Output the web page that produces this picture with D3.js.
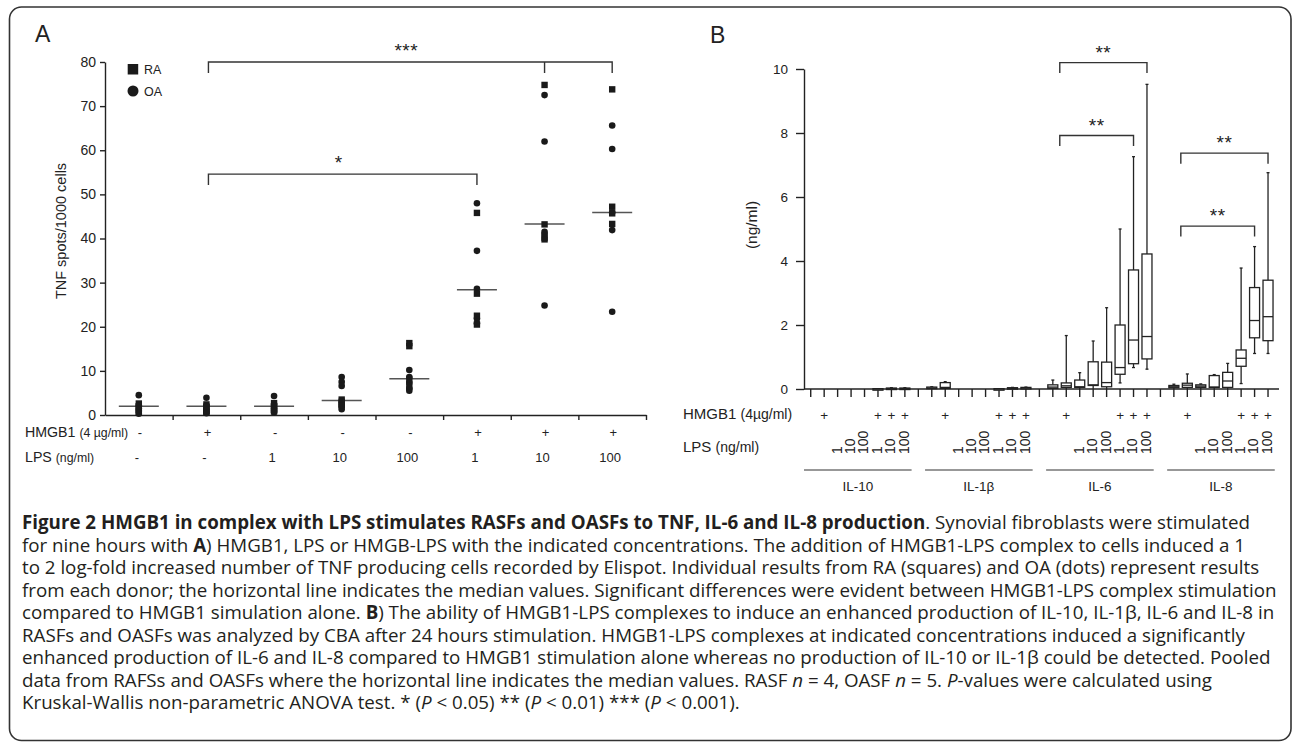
<!DOCTYPE html>
<html><head><meta charset="utf-8">
<script src="https://cdn.jsdelivr.net/npm/d3@7"></script>
<style>body{margin:0;background:#fff}</style>
</head><body>
<svg id="chart" width="1293" height="748"></svg>
<script>
// ================= DATA =================
// Panel A
const aHMGB1 = ["-", "+", "-", "-", "-", "+", "+", "+"];
const aLPS = ["-", "-", "1", "10", "100", "1", "10", "100"];
const aRA = [
  [2.6, 2.0, 1.2, 0.6],
  [2.4, 1.8, 1.0, 0.5],
  [2.7, 2.0, 1.3, 0.8],
  [3.5, 3.0, 2.6, 2.2],
  [16.3, 15.6, 8.0, 6.5],
  [45.8, 27.5, 22.5, 20.5],
  [74.8, 43.2, 40.2, 39.8],
  [73.8, 47.2, 45.7, 43.3]
];
const aOA = [
  [4.5, 2.2, 1.5, 0.9, 0.3],
  [3.9, 2.2, 1.4, 0.8, 0.4],
  [4.3, 2.4, 1.6, 1.0, 0.6],
  [8.6, 7.5, 6.6, 1.9, 1.3],
  [10.2, 8.6, 7.3, 6.0, 5.5],
  [48.0, 37.2, 28.6, 21.8, 20.8],
  [72.5, 62.0, 41.5, 41.0, 24.8],
  [65.6, 60.3, 45.9, 41.9, 23.4]
];
const aMedians = [2.0, 2.0, 2.0, 3.3, 8.2, 28.4, 43.3, 45.9];
const aYTicks = [0, 10, 20, 30, 40, 50, 60, 70, 80];
const aBrackets = [
  {from: 1, to: 7, mids: [6], value: 80, label: "***"},
  {from: 1, to: 5, mids: [], value: 54.6, label: "*"}
];

// Panel B  (each entry: [min, q1, median, q3, max])
const bCytokines = ["IL-10", "IL-1\u03B2", "IL-6", "IL-8"];
const bHMGB1 = ["", "+", "", "", "", "+", "+", "+"];
const bLPS = ["", "", "1", "10", "100", "1", "10", "100"];
const bIL10 = [
  [0,0,0,0,0],[0,0,0,0,0],[0,0,0,0,0],[0,0,0,0,0],[0,0,0,0,0],
  [0,0,0,0.01,0.01],[0,0,0.01,0.03,0.04],[0,0,0.01,0.03,0.04]
];
const bIL1b = [
  [0,0.01,0.03,0.06,0.07],[0,0.02,0.05,0.2,0.23],[0,0,0,0,0],[0,0,0,0,0],[0,0,0,0,0],
  [0,0,0,0.01,0.01],[0,0.01,0.02,0.04,0.05],[0,0.01,0.03,0.05,0.06]
];
const bIL6 = [
  [0, 0.02, 0.06, 0.13, 0.28],
  [0, 0.05, 0.10, 0.19, 1.67],
  [0, 0.05, 0.07, 0.28, 0.51],
  [0, 0.11, 0.13, 0.85, 1.50],
  [0, 0.07, 0.20, 0.84, 2.54],
  [0.19, 0.46, 0.67, 2.00, 5.00],
  [0.67, 0.79, 1.53, 3.72, 7.26],
  [0.62, 0.94, 1.64, 4.22, 9.52]
];
const bIL8 = [
  [0, 0.04, 0.07, 0.11, 0.15],
  [0, 0.05, 0.12, 0.18, 0.47],
  [0, 0.05, 0.09, 0.13, 0.16],
  [0, 0.05, 0.06, 0.42, 0.45],
  [0, 0.05, 0.25, 0.52, 0.80],
  [0.17, 0.71, 0.96, 1.22, 3.78],
  [1.11, 1.60, 2.14, 3.17, 4.45],
  [1.11, 1.51, 2.26, 3.40, 6.76]
];
const bYTicks = [0, 2, 4, 6, 8, 10];
const bBrackets = [
  {cyt: 2, from: 1, to: 7, value: 10.2, label: "**"},
  {cyt: 2, from: 1, to: 6, value: 7.92, label: "**"},
  {cyt: 3, from: 1, to: 7, value: 7.37, label: "**"},
  {cyt: 3, from: 1, to: 6, value: 5.09, label: "**"}
];

// Caption
const capLines = [
  [["Figure 2 HMGB1 in complex with LPS stimulates RASFs and OASFs to TNF, IL-6 and IL-8 production", "b"], [". Synovial fibroblasts were stimulated", ""]],
  [["for nine hours with ", ""], ["A", "b"], [") HMGB1, LPS or HMGB-LPS with the indicated concentrations. The addition of HMGB1-LPS complex to cells induced a 1", ""]],
  [["to 2 log-fold increased number of TNF producing cells recorded by Elispot. Individual results from RA (squares) and OA (dots) represent results", ""]],
  [["from each donor; the horizontal line indicates the median values. Significant differences were evident between HMGB1-LPS complex stimulation", ""]],
  [["compared to HMGB1 simulation alone. ", ""], ["B", "b"], [") The ability of HMGB1-LPS complexes to induce an enhanced production of IL-10, IL-1\u03B2, IL-6 and IL-8 in", ""]],
  [["RASFs and OASFs was analyzed by CBA after 24 hours stimulation. HMGB1-LPS complexes at indicated concentrations induced a significantly", ""]],
  [["enhanced production of IL-6 and IL-8 compared to HMGB1 stimulation alone whereas no production of IL-10 or IL-1\u03B2 could be detected. Pooled", ""]],
  [["data from RAFSs and OASFs where the horizontal line indicates the median values. RASF ", ""], ["n", "i"], [" = 4, OASF ", ""], ["n", "i"], [" = 5. ", ""], ["P", "i"], ["-values were calculated using", ""]],
  [["Kruskal-Wallis non-parametric ANOVA test. * (", ""], ["P", "i"], [" < 0.05) ** (", ""], ["P", "i"], [" < 0.01) *** (", ""], ["P", "i"], [" < 0.001).", ""]]
];
const capLineEnds = [1272, 1227, 1255, 1270, 1261, 1258, 1262, 1230, 1003];

// ================= DRAW =================
const FONT = "'Liberation Sans', Arial, sans-serif";
const INK = "#222";
const svg = d3.select("#chart");

// frame
svg.append("rect").attr("x", 9.5).attr("y", 7).attr("width", 1281.5).attr("height", 733.5)
  .attr("rx", 12).attr("fill", "none").attr("stroke", "#333").attr("stroke-width", 1.6);

const chart = svg.append("g").attr("font-family", FONT).attr("fill", INK);

// ---------- Panel A ----------
const xA = d3.scaleBand().domain(d3.range(aHMGB1.length)).range([105, 646]);
const xAb = d3.scaleLinear().domain([0, aHMGB1.length]).range([105, 646]);
const yA = d3.scaleLinear().domain([0, 80]).range([415, 62]);
const cA = i => xA(i) + xA.bandwidth() / 2;

chart.append("text").attr("x", 35).attr("y", 42).attr("font-size", 23).text("A");

const gAy = chart.append("g").attr("transform", "translate(105,0)")
  .call(d3.axisLeft(yA).tickValues(aYTicks).tickSize(5).tickSizeOuter(0).tickPadding(4));
const gAx = chart.append("g").attr("transform", "translate(0,415)")
  .call(d3.axisBottom(xAb).tickValues(d3.range(1, aHMGB1.length + 1)).tickSize(5).tickSizeOuter(0).tickFormat(""));
[gAy, gAx].forEach(g => {
  g.selectAll("path,line").attr("stroke", INK).attr("stroke-width", 1.4);
  g.selectAll("text").attr("font-size", 14).attr("fill", INK).attr("font-family", FONT);
});

chart.append("text").attr("transform", "translate(66,231) rotate(-90)")
  .attr("text-anchor", "middle").attr("font-size", 14.5).text("TNF spots/1000 cells");

// median lines
chart.append("g").selectAll("line").data(aMedians).join("line")
  .attr("x1", (d, i) => cA(i) - 20).attr("x2", (d, i) => cA(i) + 20)
  .attr("y1", d => yA(d)).attr("y2", d => yA(d))
  .attr("stroke", "#555").attr("stroke-width", 1.5);

// points
const raPts = aRA.flatMap((arr, i) => arr.map(v => ({i, v})));
const oaPts = aOA.flatMap((arr, i) => arr.map(v => ({i, v})));
chart.append("g").selectAll("circle").data(oaPts).join("circle")
  .attr("cx", d => cA(d.i)).attr("cy", d => yA(d.v)).attr("r", 3.3).attr("fill", "#1a1a1a");
chart.append("g").selectAll("rect").data(raPts).join("rect")
  .attr("x", d => cA(d.i) - 3.2).attr("y", d => yA(d.v) - 3.2).attr("width", 6.4).attr("height", 6.4)
  .attr("fill", "#1a1a1a");

// legend
chart.append("rect").attr("x", 127.7).attr("y", 64).attr("width", 10.5).attr("height", 10.5).attr("fill", "#1a1a1a");
chart.append("circle").attr("cx", 133).attr("cy", 91).attr("r", 5.5).attr("fill", "#1a1a1a");
chart.append("text").attr("x", 144).attr("y", 74).attr("font-size", 12.5).text("RA");
chart.append("text").attr("x", 144).attr("y", 95.5).attr("font-size", 12.5).text("OA");

// brackets
aBrackets.forEach(b => {
  const y = yA(b.value), x1 = cA(b.from) + 2, x2 = cA(b.to);
  let p = `M${x1},${y + 11}V${y}H${x2}V${y + 11}`;
  b.mids.forEach(m => { p += `M${cA(m)},${y}V${y + 11}`; });
  chart.append("path").attr("d", p).attr("fill", "none").attr("stroke", "#333").attr("stroke-width", 1.4);
  chart.append("text").attr("x", (x1 + x2) / 2 - 4).attr("y", y - 5).attr("text-anchor", "middle")
    .attr("font-size", 19).attr("letter-spacing", 0.5).text(b.label);
});

// row labels A
const hA = chart.append("text").attr("x", 25).attr("y", 436.5).attr("font-size", 14.2);
hA.append("tspan").text("HMGB1 ");
hA.append("tspan").attr("font-size", 12.3).text("(4 \u00B5g/ml)");
const lA = chart.append("text").attr("x", 25).attr("y", 461.5).attr("font-size", 14.2);
lA.append("tspan").text("LPS ");
lA.append("tspan").attr("font-size", 12.3).text("(ng/ml)");
chart.append("g").selectAll("text").data(aHMGB1).join("text")
  .attr("x", (d, i) => cA(i) + 1).attr("y", 436.5).attr("text-anchor", "middle").attr("font-size", 13).text(d => d);
chart.append("g").selectAll("text").data(aLPS).join("text")
  .attr("x", (d, i) => cA(i) - 2).attr("y", 461.5).attr("text-anchor", "middle").attr("font-size", 13).text(d => d);

// ---------- Panel B ----------
const nCond = bHMGB1.length;            // 8 conditions per cytokine
const nSlots = bCytokines.length * (nCond + 1) - 1; // gaps between groups
const xB = d3.scaleBand().domain(d3.range(nSlots)).range([804, 804 + nSlots * 13.45]);
const yB = d3.scaleLinear().domain([0, 10]).range([389, 69]);
const slot = (c, k) => c * (nCond + 1) + k;
const cB = s => xB(s) + xB.bandwidth() / 2;

chart.append("text").attr("x", 710).attr("y", 43).attr("font-size", 23).text("B");

const gBy = chart.append("g").attr("transform", "translate(804,0)")
  .call(d3.axisLeft(yB).tickValues(bYTicks).tickSize(8).tickSizeOuter(0).tickPadding(8));
const gBx = chart.append("g").attr("transform", "translate(0,389)")
  .call(d3.axisBottom(xB).tickSize(8).tickSizeOuter(0).tickFormat(""));
gBx.select(".domain").remove();
gBx.append("line").attr("x1", 804).attr("x2", 1279).attr("stroke", INK).attr("stroke-width", 1.6);
[gBy, gBx].forEach(g => {
  g.selectAll("path,line").attr("stroke", INK).attr("stroke-width", 1.4);
  g.selectAll("text").attr("font-size", 13.5).attr("fill", INK).attr("font-family", FONT);
});

chart.append("text").attr("transform", "translate(757,225) rotate(-90)")
  .attr("text-anchor", "middle").attr("font-size", 15.5).text("(ng/ml)");

const bData = [bIL10, bIL1b, bIL6, bIL8];
const boxes = bData.flatMap((arr, c) => arr.map((d, k) => ({s: slot(c, k), d})));
const bw = 10;
const gBox = chart.append("g").attr("stroke", "#222").attr("stroke-width", 1.3);
boxes.forEach(({s, d}) => {
  const x = cB(s);
  const [mn, q1, md, q3, mx] = d;
  if (mx > q3) {
    gBox.append("line").attr("x1", x).attr("x2", x).attr("y1", yB(mx)).attr("y2", yB(q3));
    gBox.append("line").attr("x1", x - 1.5).attr("x2", x + 1.5).attr("y1", yB(mx)).attr("y2", yB(mx));
  }
  if (q1 > mn) {
    gBox.append("line").attr("x1", x).attr("x2", x).attr("y1", yB(q1)).attr("y2", yB(mn));
    if (mn > 0) gBox.append("line").attr("x1", x - 1.5).attr("x2", x + 1.5).attr("y1", yB(mn)).attr("y2", yB(mn));
  }
  if (q3 > 0) {
    gBox.append("rect").attr("x", x - bw / 2).attr("y", yB(q3)).attr("width", bw)
      .attr("height", Math.max(yB(q1) - yB(q3), 1.5)).attr("fill", "#fff");
    gBox.append("line").attr("x1", x - bw / 2).attr("x2", x + bw / 2).attr("y1", yB(md)).attr("y2", yB(md));
  }
});

// brackets B
bBrackets.forEach(b => {
  const y = yB(b.value);
  const x1 = cB(slot(b.cyt, b.from)) - 6.5, x2 = cB(slot(b.cyt, b.to));
  chart.append("path").attr("d", `M${x1},${y + 10.5}V${y}H${x2}V${y + 10.5}`)
    .attr("fill", "none").attr("stroke", "#333").attr("stroke-width", 1.4);
  chart.append("text").attr("x", (x1 + x2) / 2).attr("y", y - 4).attr("text-anchor", "middle")
    .attr("font-size", 19).attr("letter-spacing", 0.5).text(b.label);
});

// row labels B
const hB = chart.append("text").attr("x", 683).attr("y", 419).attr("font-size", 15);
hB.append("tspan").text("HMGB1 ");
hB.append("tspan").attr("font-size", 14).text("(4\u00B5g/ml)");
const lB = chart.append("text").attr("x", 683).attr("y", 452).attr("font-size", 15);
lB.append("tspan").text("LPS ");
lB.append("tspan").attr("font-size", 14).text("(ng/ml)");

bCytokines.forEach((name, c) => {
  chart.append("g").selectAll("text").data(bHMGB1).join("text")
    .attr("x", (d, k) => cB(slot(c, k))).attr("y", 420).attr("text-anchor", "middle")
    .attr("font-size", 13.5).text(d => d);
  chart.append("g").selectAll("text").data(bLPS).join("text")
    .attr("transform", (d, k) => `translate(${cB(slot(c, k)) - 1},454) rotate(-90)`)
    .attr("dy", "0.35em").attr("font-size", 14).text(d => d);
  const x1 = xB(slot(c, 0)), x2 = xB(slot(c, nCond - 1)) + xB.bandwidth();
  chart.append("line").attr("x1", x1).attr("x2", x2).attr("y1", 470).attr("y2", 470)
    .attr("stroke", "#333").attr("stroke-width", 1.2);
  chart.append("text").attr("x", (x1 + x2) / 2).attr("y", 491).attr("text-anchor", "middle")
    .attr("font-size", 13.5).text(name);
});

// ---------- Caption ----------
const capG = svg.append("g").attr("font-family", "'Open Sans', 'Noto Sans', sans-serif")
  .attr("fill", "#231f20").attr("font-size", 16);
const capTexts = capLines.map((parts, li) => {
  const t = capG.append("text").attr("x", 22).attr("y", 529 + li * 22.5);
  parts.forEach(([s, st]) => {
    const ts = t.append("tspan").text(s);
    if (st === "b") ts.attr("font-weight", "bold");
    if (st === "i") ts.attr("font-style", "italic");
  });
  return t;
});
// fit font size so lines span like the reference
let natural = 0, target = 0;
capTexts.slice(0, 8).forEach((t, i) => { natural += t.node().getComputedTextLength(); target += capLineEnds[i] - 22; });
const fs = 16 * target / natural;
capG.attr("font-size", fs);
</script>
</body></html>
